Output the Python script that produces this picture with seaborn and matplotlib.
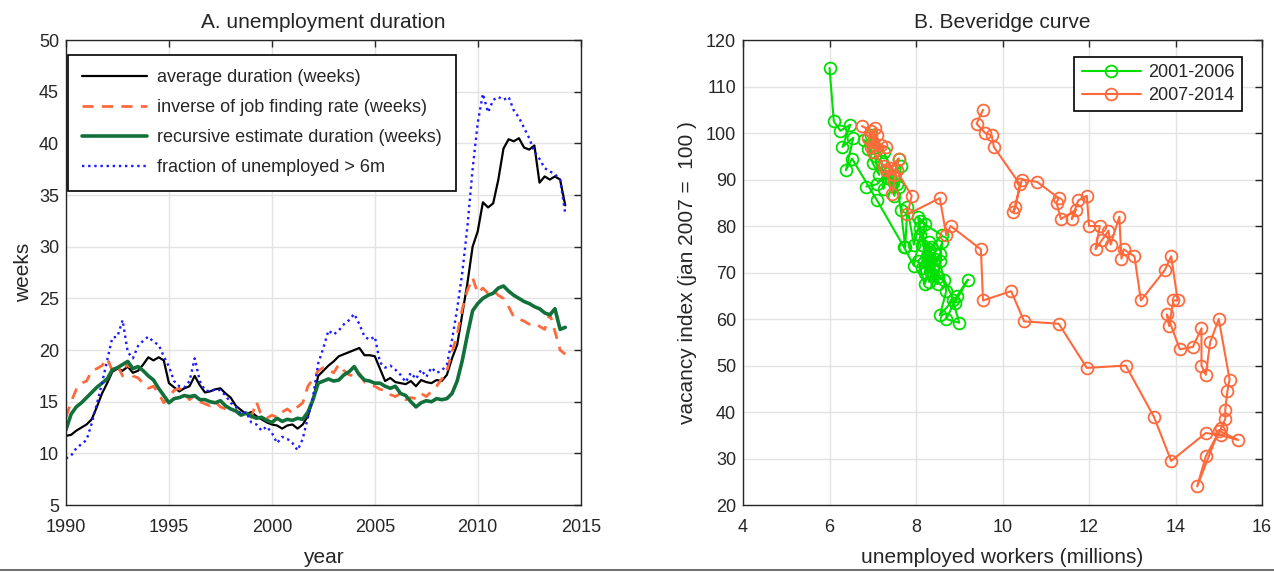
import numpy as np
import pandas as pd
import matplotlib
matplotlib.use("Agg")
import matplotlib.pyplot as plt
from matplotlib.lines import Line2D
import seaborn as sns

# ---------------- Panel A data (quarterly, 1990Q1 .. 2014Q2) ----------------
avg_duration = [
    11.7, 11.8, 12.2, 12.5,   # 1990
    12.8, 13.3, 14.5, 15.8,   # 1991
    16.8, 17.9, 18.2, 18.0,   # 1992
    18.4, 17.8, 18.0, 18.6,   # 1993
    19.3, 19.0, 19.3, 19.0,   # 1994
    16.8, 16.4, 16.0, 16.3,   # 1995
    16.5, 17.5, 16.6, 15.9,   # 1996
    16.0, 16.2, 16.3, 15.8,   # 1997
    15.4, 14.6, 14.2, 13.8,   # 1998
    14.0, 13.6, 13.3, 13.0,   # 1999
    12.8, 12.7, 12.4, 12.7,   # 2000
    12.8, 12.4, 12.8, 13.6,   # 2001
    15.2, 17.5, 18.0, 18.5,   # 2002
    18.9, 19.4, 19.6, 19.8,   # 2003
    20.0, 20.2, 19.5, 19.5,   # 2004
    19.4, 18.2, 17.0, 17.3,   # 2005
    16.9, 16.8, 16.7, 17.0,   # 2006
    16.5, 17.1, 16.9, 16.8,   # 2007
    17.1, 17.0, 17.6, 19.2,   # 2008
    20.5, 23.5, 26.5, 30.0,   # 2009
    31.5, 34.3, 33.8, 34.2,   # 2010
    36.5, 39.5, 40.4, 40.2,   # 2011
    40.5, 39.6, 39.4, 39.8,   # 2012
    36.2, 36.8, 36.5, 36.8,   # 2013
    36.5, 34.0,               # 2014
]
inverse_jfr = [
    13.5, 15.0, 16.2, 16.8,
    17.0, 18.0, 18.2, 18.5,
    19.2, 18.0, 18.5, 17.5,
    18.8, 17.5, 17.3, 16.8,
    16.3, 16.5, 15.8, 14.9,
    15.5, 16.1, 16.3, 15.8,
    15.2, 15.6, 15.0, 14.8,
    14.6, 15.0, 14.5, 14.3,
    14.0, 14.2, 13.8, 13.9,
    13.5, 15.0, 13.6, 13.4,
    13.7, 13.5, 14.0, 14.3,
    13.9, 14.5, 14.9, 16.5,
    17.2, 18.0, 18.3, 18.1,
    17.8, 18.6, 18.0, 17.6,
    17.5, 17.8, 16.9, 16.6,
    16.5, 16.2, 16.1, 15.7,
    15.5, 15.8, 15.2, 15.4,
    15.3, 15.8, 15.5, 16.0,
    16.5, 17.2, 18.0, 19.8,
    21.5, 24.0, 25.8, 27.0,
    25.5, 26.0, 25.5, 25.8,
    25.3, 25.0, 24.2, 23.2,
    23.0, 22.8, 22.5, 22.6,
    22.3, 22.0, 23.5, 21.8,
    20.0, 19.6,
]
recursive_est = [
    12.3, 13.8, 14.5, 14.9,
    15.4, 15.9, 16.4, 16.8,
    17.2, 18.1, 18.3, 18.6,
    18.9, 18.2, 18.4, 18.0,
    17.5, 17.1, 16.3, 15.6,
    14.9, 15.3, 15.4, 15.6,
    15.5, 15.6, 15.2, 15.2,
    15.0, 14.9, 15.1, 14.6,
    14.3, 14.1, 13.7, 13.9,
    13.6, 13.4, 13.5, 13.2,
    13.0, 13.4, 13.1, 13.3,
    13.2, 13.4, 13.3, 14.0,
    15.2, 16.8, 17.0, 17.2,
    17.0, 17.1, 17.6, 17.9,
    18.4, 17.6, 17.1, 17.0,
    16.8, 16.8, 16.5, 16.3,
    16.5, 15.8, 15.6, 15.0,
    14.5, 14.9, 15.1, 15.0,
    15.3, 15.2, 15.3, 15.8,
    17.0, 19.0, 21.5, 23.8,
    24.5, 25.0, 25.3, 25.5,
    26.0, 26.2, 25.7, 25.3,
    25.0, 24.7, 24.5, 24.2,
    24.0, 23.6, 23.4, 24.0,
    22.0, 22.2,
]
frac_long = [
    9.5, 9.8, 10.5, 10.9,
    11.3, 12.9, 14.8, 16.8,
    19.0, 21.2, 21.3, 22.9,
    19.8, 19.2, 20.4, 20.9,
    21.3, 20.8, 20.5, 19.4,
    18.4, 17.0, 16.5, 16.4,
    17.0, 19.2, 17.0, 16.1,
    16.0, 16.2, 16.1, 15.6,
    14.9, 14.5, 13.8, 14.0,
    13.0, 12.8, 12.2, 12.6,
    12.0, 11.0, 11.6, 11.4,
    11.0, 10.3, 11.4, 13.5,
    15.5, 18.7, 20.2, 21.9,
    21.5, 21.9, 22.5, 22.9,
    23.5, 22.5, 21.3, 21.0,
    21.3, 18.8, 18.3, 18.5,
    18.1, 17.6, 16.9, 17.8,
    17.2, 18.1, 17.4, 18.3,
    17.8, 18.0, 18.6, 21.0,
    24.0, 27.5, 32.0, 37.5,
    42.0, 44.8, 43.0, 44.2,
    44.5, 44.2, 44.5, 43.2,
    42.5, 41.5, 40.5, 39.2,
    38.5, 37.6, 37.3, 37.0,
    36.5, 33.2,
]
series_labels = [
    "average duration (weeks)",
    "inverse of job finding rate (weeks)",
    "recursive estimate duration (weeks)",
    "fraction of unemployed > 6m",
]
start_year = 1990
years = start_year + np.arange(len(avg_duration)) * 0.25

# ---------------- Panel B data (unemployed millions, vacancy index) ----------------
u_2001_2006 = [
    6.00, 6.10, 6.25, 6.48, 6.30, 6.55, 6.38, 6.52, 7.10, 7.72, 7.95, 8.10,
    8.05, 8.20, 8.15, 8.30, 8.10, 8.25, 8.35, 8.20, 8.45, 8.30, 8.55, 8.40,
    8.50, 8.60, 8.55, 8.70, 8.55, 8.85, 9.00, 8.70, 8.95, 9.20, 8.90, 8.65,
    8.35, 8.50, 8.25, 8.40, 8.30, 8.15, 8.45, 8.20, 8.05, 8.30, 8.60, 8.10,
    7.95, 7.80, 7.75, 7.65, 7.55, 7.50, 7.40, 7.65, 7.60, 7.35, 7.25, 7.20,
    7.05, 7.15, 7.00, 6.90, 6.80, 7.05, 6.95, 7.25, 7.50, 7.60, 7.10, 6.85,
]
v_2001_2006 = [
    114.0, 102.5, 100.5, 101.8, 97.0, 99.0, 92.0, 94.5, 85.5, 75.5, 71.5, 78.0,
    82.0, 80.5, 76.0, 74.0, 79.5, 72.0, 75.5, 70.0, 73.0, 68.0, 74.0, 71.0,
    69.0, 76.5, 72.5, 66.0, 60.8, 64.0, 59.2, 60.0, 65.0, 68.5, 63.5, 68.5,
    70.0, 67.5, 73.5, 69.5, 76.5, 71.0, 74.0, 67.5, 72.5, 75.0, 78.0, 81.0,
    76.0, 84.0, 75.5, 83.5, 89.0, 86.5, 90.5, 93.0, 88.5, 91.5, 88.0, 94.0,
    95.0, 91.0, 93.5, 96.5, 98.5, 97.0, 99.5, 96.0, 91.0, 94.5, 89.0, 88.5,
]
u_2007_2014 = [
    6.75, 6.95, 6.90, 7.05, 7.00, 6.95, 7.10, 7.10, 7.20, 7.30, 7.00, 7.25,
    7.40, 7.60, 7.50, 7.30, 7.45, 7.55, 7.90, 7.80, 8.55, 8.70, 8.80, 9.50,
    9.55, 10.20, 10.50, 11.30, 11.95, 12.85, 13.50, 13.90, 14.70, 15.05, 15.45, 15.00,
    14.50, 14.70, 15.05, 15.15, 15.15, 15.20, 15.25, 15.00, 14.80, 14.70, 14.60, 14.60,
    14.40, 14.10, 13.80, 13.85, 13.95, 14.05, 13.90, 13.75, 13.20, 13.05, 12.80, 12.75,
    12.70, 12.50, 12.45, 12.30, 12.15, 12.25, 12.00, 11.95, 11.75, 11.60, 11.70, 11.35,
    11.25, 11.30, 10.80, 10.45, 10.25, 10.30, 10.40, 9.80, 9.75, 9.60, 9.40, 9.55,
]
v_2007_2014 = [
    101.5, 100.5, 99.0, 101.0, 98.0, 97.0, 99.5, 96.5, 97.5, 97.0, 96.0, 93.0,
    92.5, 94.5, 91.0, 92.0, 87.0, 92.0, 86.5, 82.5, 86.0, 78.0, 80.0, 75.0,
    64.0, 66.0, 59.5, 59.0, 49.5, 50.0, 39.0, 29.5, 35.5, 35.0, 34.0, 36.0,
    24.0, 30.5, 36.5, 38.5, 40.5, 44.5, 47.0, 60.0, 55.0, 48.0, 50.0, 58.0,
    54.0, 53.5, 61.0, 58.5, 64.0, 64.0, 73.5, 70.5, 64.0, 73.5, 75.0, 73.0,
    82.0, 76.0, 79.0, 77.0, 75.0, 80.0, 80.0, 86.5, 85.5, 81.5, 83.5, 81.5,
    85.0, 86.0, 89.5, 90.0, 83.0, 84.0, 89.0, 97.0, 99.5, 100.0, 102.0, 105.0,
]
period_labels = ["2001-2006", "2007-2014"]

# ---------------- styling ----------------
sns.set_theme(style="whitegrid")
plt.rcParams["font.family"] = ["Liberation Sans", "DejaVu Sans"]
plt.rcParams.update({
    "axes.edgecolor": "#262626",
    "axes.linewidth": 1.0,
    "grid.color": "#e3e3e3",
    "grid.linewidth": 1.0,
    "xtick.direction": "in",
    "ytick.direction": "in",
    "xtick.major.size": 5,
    "ytick.major.size": 5,
    "xtick.color": "#262626",
    "ytick.color": "#262626",
    "text.color": "#262626",
})

fig = plt.figure(figsize=(12.74, 5.72), dpi=100)
axA = fig.add_axes([0.0518, 0.117, 0.404, 0.813])
axB = fig.add_axes([0.5832, 0.117, 0.4074, 0.813])

# ---------------- Panel A ----------------
dfA = pd.DataFrame({
    "year": years,
    "avg": avg_duration,
    "inv": inverse_jfr,
    "rec": recursive_est,
    "frac": frac_long,
})
sns.lineplot(data=dfA, x="year", y="avg", ax=axA, color="black", lw=1.6,
             label=series_labels[0])
sns.lineplot(data=dfA, x="year", y="inv", ax=axA, color="#ff6a3d", lw=2.0,
             linestyle=(0, (4, 3)), label=series_labels[1])
sns.lineplot(data=dfA, x="year", y="rec", ax=axA, color="#12703a", lw=2.6,
             label=series_labels[2])
sns.lineplot(data=dfA, x="year", y="frac", ax=axA, color="#1a1aff", lw=1.7,
             linestyle=(0, (1, 1.6)), label=series_labels[3])

axA.set_xlim(1990, 2015)
axA.set_ylim(5, 50)
axA.set_xticks(np.arange(1990, 2016, 5))
axA.set_yticks(np.arange(5, 51, 5))
axA.set_title("A. unemployment duration", fontsize=15, pad=9)
axA.set_xlabel("year", fontsize=15, labelpad=9)
axA.set_ylabel("weeks", fontsize=15, labelpad=4)
axA.tick_params(axis="x", labelsize=13, top=True, length=5, width=1,
                pad=10, color="#262626")
axA.tick_params(axis="y", labelsize=13, right=True, length=5, width=1,
                pad=5, color="#262626")
legA = axA.legend(loc="upper left", bbox_to_anchor=(0.0534, 0.904),
                  bbox_transform=fig.transFigure, fontsize=13, frameon=True,
                  fancybox=False, edgecolor="black", framealpha=1,
                  handlelength=3.6, handletextpad=0.5, labelspacing=0.72,
                  borderpad=0.8, borderaxespad=0)
legA.get_frame().set_linewidth(1.2)

# ---------------- Panel B ----------------
dfB1 = pd.DataFrame({"u": u_2001_2006, "v": v_2001_2006})
dfB2 = pd.DataFrame({"u": u_2007_2014, "v": v_2007_2014})
sns.lineplot(data=dfB1, x="u", y="v", ax=axB, sort=False, estimator=None,
             color="#00e000", lw=1.5, marker="o", ms=8.5, mfc="none",
             mec="#00e000", mew=1.3, label=period_labels[0])
sns.lineplot(data=dfB2, x="u", y="v", ax=axB, sort=False, estimator=None,
             color="#ff6a3d", lw=1.5, marker="o", ms=8.5, mfc="none",
             mec="#ff6a3d", mew=1.3, label=period_labels[1])

axB.set_xlim(4, 16)
axB.set_ylim(20, 120)
axB.set_xticks(np.arange(4, 17, 2))
axB.set_yticks(np.arange(20, 121, 10))
axB.set_title("B. Beveridge curve", fontsize=15, pad=9)
axB.set_xlabel("unemployed workers (millions)", fontsize=15, labelpad=9)
axB.set_ylabel("vacancy index (jan 2007 =  100 )", fontsize=15, labelpad=6)
axB.tick_params(axis="x", labelsize=13, top=True, length=5, width=1,
                pad=10, color="#262626")
axB.tick_params(axis="y", labelsize=13, right=True, length=5, width=1,
                pad=5, color="#262626")
legB = axB.legend(loc="upper right", bbox_to_anchor=(0.975, 0.900),
                  bbox_transform=fig.transFigure, fontsize=13, frameon=True,
                  fancybox=False, edgecolor="black", framealpha=1,
                  handlelength=3.3, handletextpad=0.4, labelspacing=0.3,
                  borderpad=0.4, borderaxespad=0)
legB.get_frame().set_linewidth(1.2)

for ax in (axA, axB):
    for s in ax.spines.values():
        s.set_visible(True)
        s.set_color("#262626")
        s.set_linewidth(1.0)
    ax.grid(True, color="#e3e3e3", lw=1.0)
    ax.set_axisbelow(True)

# thin rule along the bottom edge of the image
fig.add_artist(Line2D([0, 1], [0.004, 0.004], transform=fig.transFigure,
                      color="#555555", lw=1.2))

fig.savefig("out.png", dpi=100, facecolor="white")
